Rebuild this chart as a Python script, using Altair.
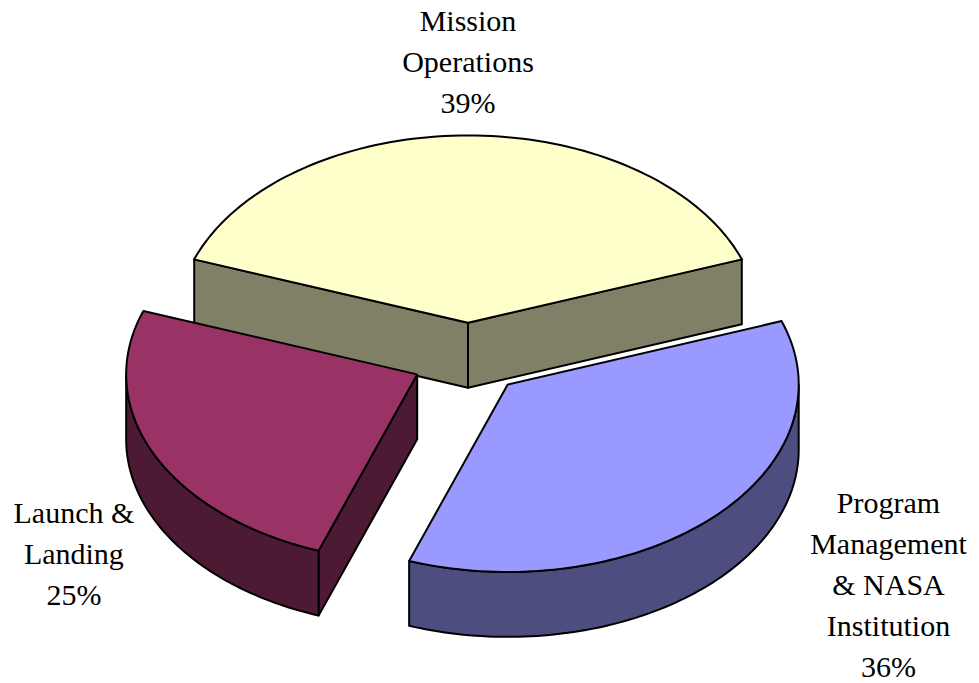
import math
import altair as alt
import pandas as pd

# ---- data -------------------------------------------------------------
categories = ["Mission Operations", "Program Management & NASA Institution", "Launch & Landing"]
label_lines = ["Mission\nOperations", "Program\nManagement\n& NASA\nInstitution", "Launch &\nLanding"]
shares = [39, 36, 25]

# ---- styles -----------------------------------------------------------
top_colors = ["#FFFFCC", "#9999FF", "#993366"]
side_colors = ["#808066", "#4D4D80", "#4D1A33"]
FONT = "'Liberation Serif', 'Times New Roman', 'DejaVu Serif', serif"

df = pd.DataFrame({
    "k": list(range(len(categories))),
    "cat": categories,
    "value": shares,
    "label": [f"{l}\n{v}%" for l, v in zip(label_lines, shares)],
})

# ---- layout constants (pixels / projection) ---------------------------
W, H = 979, 683
CX, CY = 468, 359          # pie centre on the page
R = 291                    # horizontal radius in px
TILT = 0.644               # vertical squash of the 3-D view
DEPTH = 0.223              # thickness of the pie (in units of R)
EXPLODE = 0.193            # explosion distance (in units of R)
N = 90                     # points per arc
OFF = -math.pi * shares[0] / sum(shares)   # centre first slice at the top

XDOM = [-CX / R, (W - CX) / R]
YDOM = [-(H - CY) / R, CY / R]

xs = alt.X("px:Q", scale=alt.Scale(domain=XDOM, nice=False, zero=False), axis=None)
ys = alt.Y("py:Q", scale=alt.Scale(domain=YDOM, nice=False, zero=False), axis=None)

base = (
    alt.Chart(df)
    .transform_joinaggregate(total="sum(value)")
    .transform_window(cum="sum(value)", sort=[alt.SortField("k")], frame=[None, 0])
    .transform_calculate(a0=f"2*PI*(datum.cum - datum.value)/datum.total + ({OFF})")
    .transform_calculate(a1=f"2*PI*datum.cum/datum.total + ({OFF})")
    .transform_calculate(mid="(datum.a0 + datum.a1)/2")
    .transform_calculate(ox=f"{EXPLODE}*sin(datum.mid)")
    .transform_calculate(oy=f"{EXPLODE}*cos(datum.mid)")
)

stroke_kw = dict(stroke="black", strokeWidth=2, strokeJoin="round", interpolate="linear")

top_fill = alt.Fill("cat:N", scale=alt.Scale(domain=categories, range=top_colors), legend=None)
side_fill = alt.Fill("cat:N", scale=alt.Scale(domain=categories, range=side_colors), legend=None)

# ---- top faces ----------------------------------------------------------
top = (
    base.transform_calculate(i=f"sequence(0, {N + 3})")
    .transform_flatten(["i"])
    .transform_calculate(t=f"datum.a0 + (datum.a1 - datum.a0)*(datum.i - 1)/{N}")
    .transform_calculate(onrim=f"datum.i >= 1 && datum.i <= {N + 1}")
    .transform_calculate(px="datum.ox + (datum.onrim ? sin(datum.t) : 0)")
    .transform_calculate(py=f"{TILT}*(datum.oy + (datum.onrim ? cos(datum.t) : 0))")
    .mark_line(**stroke_kw)
    .encode(x=xs, y=ys, order=alt.Order("i:Q"), fill=top_fill)
)

# ---- outer rim (front half only) ---------------------------------------
M = N
rim = (
    base.transform_calculate(r0="max(datum.a0, PI/2)")
    .transform_calculate(r1="min(datum.a1, 3*PI/2)")
    .transform_filter("datum.r1 > datum.r0")
    .transform_calculate(i=f"sequence(0, {2 * M + 3})")
    .transform_flatten(["i"])
    .transform_calculate(j=f"datum.i <= {M} ? datum.i : (datum.i <= {2 * M + 1} ? {2 * M + 1} - datum.i : 0)")
    .transform_calculate(z=f"(datum.i > {M} && datum.i <= {2 * M + 1}) ? {DEPTH} : 0")
    .transform_calculate(t=f"datum.r0 + (datum.r1 - datum.r0)*datum.j/{M}")
    .transform_calculate(px="datum.ox + sin(datum.t)")
    .transform_calculate(py=f"{TILT}*(datum.oy + cos(datum.t)) - datum.z")
    .mark_line(**stroke_kw)
    .encode(x=xs, y=ys, order=alt.Order("i:Q"), fill=side_fill)
)

# ---- radial cut faces (only those facing the viewer) -------------------
cuts = (
    base.transform_calculate(i="sequence(0, 10)")
    .transform_flatten(["i"])
    .transform_calculate(face="datum.i < 5 ? 'start' : 'end'")
    .transform_calculate(c="datum.i % 5")
    .transform_calculate(ang="datum.face == 'start' ? datum.a0 : datum.a1")
    .transform_filter("(datum.face == 'start' && sin(datum.a0) < 0) || (datum.face == 'end' && sin(datum.a1) > 0)")
    .transform_calculate(onrim="datum.c == 1 || datum.c == 2")
    .transform_calculate(z=f"(datum.c == 2 || datum.c == 3) ? {DEPTH} : 0")
    .transform_calculate(px="datum.ox + (datum.onrim ? sin(datum.ang) : 0)")
    .transform_calculate(py=f"{TILT}*(datum.oy + (datum.onrim ? cos(datum.ang) : 0)) - datum.z")
    .mark_line(**stroke_kw)
    .encode(x=xs, y=ys, order=alt.Order("i:Q"), detail="face:N", fill=side_fill)
)

sides = alt.layer(cuts, rim)

# ---- labels ---------------------------------------------------------------
LABEL_NUDGE = {
    categories[0]: (0, -104),
    categories[1]: (175, -4),
    categories[2]: (-80, 69),
}
label_base = (
    base.transform_calculate(px="datum.ox + sin(datum.mid)")
    .transform_calculate(py=f"{TILT}*(datum.oy + cos(datum.mid))")
)
texts = []
for cat, (dx, dy) in LABEL_NUDGE.items():
    texts.append(
        label_base.transform_filter(alt.datum.cat == cat)
        .mark_text(
            dx=dx, dy=dy, align="center", baseline="alphabetic", lineBreak="\n",
            font=FONT, fontSize=30, lineHeight=41, color="black",
        )
        .encode(x=xs, y=ys, text="label:N")
    )

chart = (
    alt.layer(sides, top, *texts)
    .resolve_scale(fill="independent")
    .properties(width=W, height=H, padding=0, autosize=alt.AutoSizeParams(type="none"), background="white")
    .configure_view(stroke=None)
)

chart.save("out.html", embed_options={"renderer": "svg", "actions": False})
